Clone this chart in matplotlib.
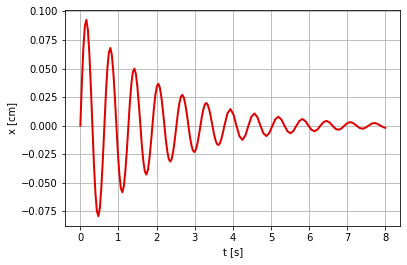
import matplotlib
matplotlib.use("Agg")
import matplotlib.pyplot as plt

# time [s] and displacement [cm]
t = [0, 0.039, 0.079, 0.118, 0.158, 0.197, 0.236, 0.276,
     0.315, 0.354, 0.394, 0.433, 0.473, 0.512, 0.551, 0.591,
     0.630, 0.669, 0.709, 0.748, 0.788, 0.827, 0.866, 0.906,
     0.945, 0.984, 1.024, 1.063, 1.103, 1.142, 1.181, 1.221,
     1.260, 1.299, 1.339, 1.378, 1.418, 1.457, 1.496, 1.536,
     1.575, 1.614, 1.654, 1.693, 1.733, 1.772, 1.811, 1.851,
     1.890, 1.929, 1.969, 2.008, 2.048, 2.087, 2.126, 2.166,
     2.205, 2.244, 2.284, 2.323, 2.363, 2.402, 2.441, 2.481,
     2.520, 2.559, 2.599, 2.638, 2.678, 2.717, 2.756, 2.796,
     2.835, 2.874, 2.914, 2.953, 2.993, 3.032, 3.071, 3.111,
     3.150, 3.189, 3.229, 3.268, 3.308, 3.347, 3.386, 3.426,
     3.465, 3.504, 3.544, 3.583, 3.623, 3.662, 3.701, 3.741,
     3.780, 3.859, 3.938, 4.016, 4.095, 4.174, 4.253, 4.331,
     4.410, 4.489, 4.568, 4.646, 4.725, 4.804, 4.883, 4.961,
     5.040, 5.119, 5.198, 5.276, 5.355, 5.434, 5.513, 5.591,
     5.670, 5.749, 5.828, 5.906, 5.985, 6.064, 6.143, 6.221,
     6.300, 6.379, 6.458, 6.536, 6.615, 6.694, 6.773, 6.851,
     6.930, 7.009, 7.088, 7.166, 7.245, 7.324, 7.403, 7.481,
     7.560, 7.639, 7.718, 7.796, 7.875, 7.954, 8.000]

x = [0, 0.0375, 0.0680, 0.0872, 0.0926, 0.0839, 0.0630, 0.0334,
     0, -0.0322, -0.0583, -0.0747, -0.0793, -0.0719, -0.0540, -0.0287,
     0, 0.0276, 0.0500, 0.0641, 0.0680, 0.0616, 0.0463, 0.0246,
     0, -0.0236, -0.0428, -0.0549, -0.0583, -0.0528, -0.0396, -0.0210,
     0, 0.0203, 0.0367, 0.0470, 0.0499, 0.0453, 0.0340, 0.0180,
     0, -0.0174, -0.0315, -0.0403, -0.0428, -0.0388, -0.0291, -0.0155,
     0, 0.0149, 0.0270, 0.0345, 0.0367, 0.0332, 0.0250, 0.0133,
     0, -0.0127, -0.0231, -0.0296, -0.0314, -0.0285, -0.0214, -0.0114,
     0, 0.0109, 0.0198, 0.0254, 0.0269, 0.0244, 0.0183, 0.0097,
     0, -0.0094, -0.0170, -0.0217, -0.0231, -0.0209, -0.0157, -0.0083,
     0, 0.0080, 0.0145, 0.0186, 0.0198, 0.0179, 0.0135, 0.0071,
     0, -0.0069, -0.0125, -0.0160, -0.0170, -0.0154, -0.0115, -0.0061,
     0, 0.0107, 0.0145, 0.0099, 0, -0.0092, -0.0125, -0.0085,
     0, 0.0078, 0.0107, 0.0073, 0, -0.0067, -0.0091, -0.0062,
     0, 0.0058, 0.0078, 0.0053, 0, -0.0049, -0.0067, -0.0046,
     0, 0.0042, 0.0058, 0.0039, 0, -0.0036, -0.0049, -0.0034,
     0, 0.0031, 0.0042, 0.0029, 0, -0.0027, -0.0036, -0.0025,
     0, 0.0023, 0.0031, 0.0021, 0, -0.0020, -0.0027, -0.0018,
     0, 0.0017, 0.0023, 0.0016, 0, -0.0014, -0.0019]

# reference was drawn at 72 dpi
fig = plt.figure(figsize=(407 / 72, 265 / 72), dpi=72)
ax = fig.add_axes([0.160, 0.147, 0.824, 0.815])

ax.plot(t, x, color='#e00000', linewidth=2)
ax.set_xlabel('t [s]')
ax.set_ylabel('x [cm]')
ax.set_yticks([-0.075, -0.05, -0.025, 0, 0.025, 0.05, 0.075, 0.1])
ax.grid(True)

fig.savefig('out.png', dpi=72)
